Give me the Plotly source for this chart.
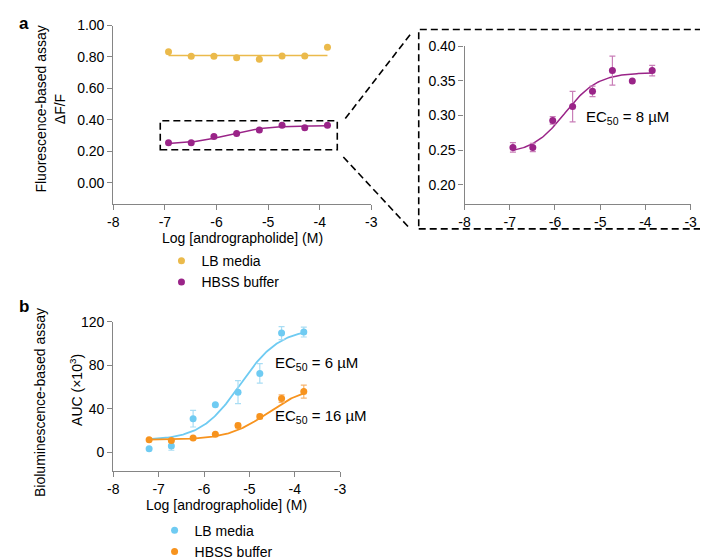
import numpy as np
import plotly.graph_objects as go

# ---- data -------------------------------------------------------------
log_conc_a = [-6.93, -6.49, -6.05, -5.61, -5.17, -4.73, -4.29, -3.85]
lb_a = [0.834, 0.804, 0.804, 0.795, 0.785, 0.807, 0.807, 0.862]
hbss_a = [0.254, 0.254, 0.293, 0.313, 0.335, 0.365, 0.350, 0.365]
hbss_a_err = [0.007, 0.006, 0.0055, 0.022, 0.0075, 0.021, 0.0, 0.0075]
lb_a_fit = 0.81
hbss_a_fit = dict(bottom=0.245, top=0.362, logec50=-5.78, hill=1.2)

log_conc_b = [-7.21, -6.72, -6.24, -5.75, -5.25, -4.77, -4.29, -3.80]
lb_b = [3.2, 5.9, 30.9, 43.8, 55.3, 72.6, 109.7, 110.6]
lb_b_err = [0.0, 4.0, 7.6, 0.0, 10.6, 9.0, 6.0, 4.5]
hbss_b = [11.5, 10.9, 13.2, 16.5, 24.7, 32.9, 49.4, 55.9]
hbss_b_err = [0.0, 0.0, 0.0, 0.0, 2.0, 2.0, 3.5, 6.0]
lb_b_fit = dict(bottom=11.0, top=114.0, logec50=-5.2, hill=1.0)
hbss_b_fit = dict(bottom=11.5, top=61.0, logec50=-4.6, hill=1.0)

YELLOW = "#EBBA4B"
PURPLE = "#9A2488"
PURPLE_ERR = "#C97FB8"
BLUE = "#6FCBF2"
BLUE_ERR = "#A9DDF4"
ORANGE = "#F7931E"
ORANGE_ERR = "#F8B46C"
AXIS = "#858585"
FONT = "Liberation Sans, Arial, sans-serif"

W, H = 708, 560


def px(x):
    return x / W


def py(y):
    return 1 - y / H


def four_pl(x, p):
    x = np.asarray(x)
    return p["bottom"] + (p["top"] - p["bottom"]) / (1 + 10 ** ((p["logec50"] - x) * p["hill"]))


def curve_x(xs):
    return np.linspace(min(xs), max(xs), 120)


fig = go.Figure()

# ---- panel a, main -----------------------------------------------------
fig.add_trace(go.Scatter(
    x=[min(log_conc_a), max(log_conc_a)], y=[lb_a_fit, lb_a_fit],
    mode="lines", line=dict(color=YELLOW, width=1.5),
    showlegend=False, hoverinfo="skip", xaxis="x", yaxis="y"))
fig.add_trace(go.Scatter(
    x=log_conc_a, y=lb_a, mode="markers", name="LB media",
    marker=dict(color=YELLOW, size=7), xaxis="x", yaxis="y", legend="legend"))
xa = curve_x(log_conc_a)
fig.add_trace(go.Scatter(
    x=xa, y=four_pl(xa, hbss_a_fit), mode="lines",
    line=dict(color=PURPLE, width=1.5), showlegend=False, hoverinfo="skip",
    xaxis="x", yaxis="y"))
fig.add_trace(go.Scatter(
    x=log_conc_a, y=hbss_a, mode="markers", name="HBSS buffer",
    marker=dict(color=PURPLE, size=7), xaxis="x", yaxis="y", legend="legend"))

# ---- panel a, inset ----------------------------------------------------
fig.add_trace(go.Scatter(
    x=xa, y=four_pl(xa, hbss_a_fit), mode="lines",
    line=dict(color=PURPLE, width=1.5), showlegend=False, hoverinfo="skip",
    xaxis="x2", yaxis="y2"))
fig.add_trace(go.Scatter(
    x=log_conc_a, y=hbss_a, mode="markers", showlegend=False,
    marker=dict(color=PURPLE, size=7),
    error_y=dict(type="data", array=hbss_a_err, color=PURPLE_ERR, thickness=1.2, width=3),
    xaxis="x2", yaxis="y2"))

# ---- panel b -----------------------------------------------------------
xb = curve_x(log_conc_b)
fig.add_trace(go.Scatter(
    x=xb, y=four_pl(xb, lb_b_fit), mode="lines",
    line=dict(color=BLUE, width=1.8), showlegend=False, hoverinfo="skip",
    xaxis="x3", yaxis="y3"))
fig.add_trace(go.Scatter(
    x=xb, y=four_pl(xb, hbss_b_fit), mode="lines",
    line=dict(color=ORANGE, width=1.8), showlegend=False, hoverinfo="skip",
    xaxis="x3", yaxis="y3"))
fig.add_trace(go.Scatter(
    x=log_conc_b, y=lb_b, mode="markers", name="LB media",
    marker=dict(color=BLUE, size=7),
    error_y=dict(type="data", array=lb_b_err, color=BLUE_ERR, thickness=1.2, width=3),
    xaxis="x3", yaxis="y3", legend="legend2"))
fig.add_trace(go.Scatter(
    x=log_conc_b, y=hbss_b, mode="markers", name="HBSS buffer",
    marker=dict(color=ORANGE, size=7),
    error_y=dict(type="data", array=hbss_b_err, color=ORANGE_ERR, thickness=1.2, width=3),
    xaxis="x3", yaxis="y3", legend="legend2"))

axis_style = dict(
    showline=True, linecolor=AXIS, linewidth=1.2,
    ticks="outside", ticklen=5, tickcolor=AXIS, tickwidth=1.2,
    showgrid=False, zeroline=False,
    tickfont=dict(size=14, color="black", family=FONT),
)
x_ticks = dict(tickmode="array", tickvals=[-8, -7, -6, -5, -4, -3],
               ticktext=["-8", "-7", "-6", "-5", "-4", "-3"], range=[-8, -3])

fig.update_layout(
    width=W, height=H,
    margin=dict(l=0, r=0, t=0, b=0),
    paper_bgcolor="white", plot_bgcolor="white",
    font=dict(family=FONT, color="black", size=14),
    xaxis=dict(domain=[px(101), px(363.5)], anchor="y", **x_ticks, **axis_style),
    yaxis=dict(domain=[py(196), py(10)], anchor="x", range=[-0.136, 1.0],
               tickvals=[0, 0.2, 0.4, 0.6, 0.8, 1.0], tickformat=".2f", **axis_style),
    xaxis2=dict(domain=[px(458.3), px(688.3)], anchor="y2", **x_ticks, **axis_style),
    yaxis2=dict(domain=[py(196), py(31.7)], anchor="x2", range=[0.1722, 0.40],
                tickvals=[0.20, 0.25, 0.30, 0.35, 0.40], tickformat=".2f", **axis_style),
    xaxis3=dict(domain=[px(101), px(331.7)], anchor="y3", **x_ticks, **axis_style),
    yaxis3=dict(domain=[py(474.7), py(319)], anchor="x3", range=[-17.4, 120],
                tickvals=[0, 40, 80, 120], **axis_style),
    legend=dict(x=px(150), y=py(239), xanchor="left", yanchor="top",
                font=dict(size=14), bgcolor="rgba(0,0,0,0)", tracegroupgap=0,
                itemwidth=30),
    legend2=dict(x=px(143), y=py(520), xanchor="left", yanchor="top",
                 font=dict(size=14), bgcolor="rgba(0,0,0,0)", tracegroupgap=0,
                 itemwidth=30),
)

dash = dict(color="black", width=1.6, dash="7px,4px")
# zoom box on panel a and the inset frame with connecting lines
fig.add_shape(type="rect", xref="x", yref="y", x0=-7.09, x1=-3.66, y0=0.209, y1=0.394,
              line=dash)
fig.add_shape(type="rect", xref="paper", yref="paper",
              x0=px(411.7), x1=px(706), y0=py(222), y1=py(14), line=dash)
fig.add_shape(type="line", xref="paper", yref="paper",
              x0=px(337), y0=py(107), x1=px(404), y1=py(18), line=dash)
fig.add_shape(type="line", xref="paper", yref="paper",
              x0=px(335), y0=py(147), x1=px(403), y1=py(222), line=dash)

ann = [
    dict(text="<b>a</b>", x=px(3), y=py(8), font=dict(size=17)),
    dict(text="<b>b</b>", x=px(3), y=py(303), font=dict(size=17)),
    dict(text="Log [andrographolide] (M)", x=px(232), y=py(231), xanchor="center"),
    dict(text="Log [andrographolide] (M)", x=px(216), y=py(510), xanchor="center"),
    dict(text="Fluorescence-based assay", x=px(27), y=py(97), xanchor="center", textangle=-90),
    dict(text="ΔF/F", x=px(47), y=py(97), xanchor="center", textangle=-90),
    dict(text="Bioluminescence-based assay", x=px(27), y=py(403), xanchor="center", textangle=-90),
    dict(text="AUC (×10<sup>3</sup>)", x=px(63), y=py(390), xanchor="center", textangle=-90),
    dict(text="EC<sub>50</sub> = 8 µM", x=px(580), y=py(106), font=dict(size=15)),
    dict(text="EC<sub>50</sub> = 6 µM", x=px(263), y=py(362), font=dict(size=15)),
    dict(text="EC<sub>50</sub> = 16 µM", x=px(263), y=py(418), font=dict(size=15)),
]
for a in ann:
    a.setdefault("xanchor", "left")
    a.setdefault("font", dict(size=14))
    fig.add_annotation(xref="paper", yref="paper", yanchor="middle", showarrow=False, **a)

fig.write_html("out.html")
